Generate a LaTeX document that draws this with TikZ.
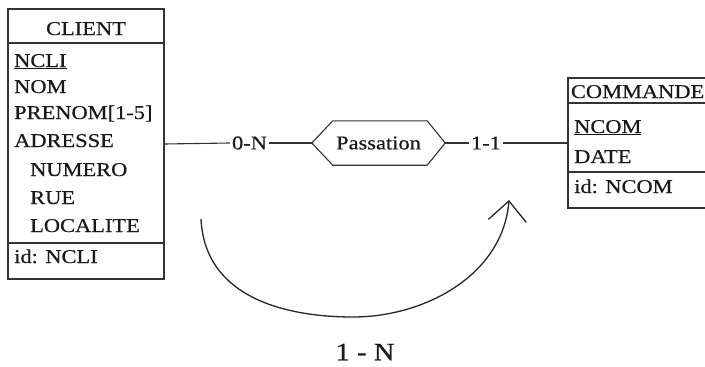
\documentclass[tikz,border=0pt]{standalone}
\usepackage{fontspec}
\setmainfont{Liberation Serif}[FakeStretch=1.15, FakeBold=0.5]
\usetikzlibrary{arrows.meta,calc}
\begin{document}
\begin{tikzpicture}[x=1pt,y=-1pt,
  every node/.style={font=\fontsize{19.5}{23}\selectfont, text=black!90},
  box/.style={draw=black!80, line width=1.1pt, minimum width=#1, inner sep=0pt},
  attr/.style={anchor=base west, inner sep=0pt},
  card/.style={inner sep=2pt},
  conn/.style={draw=black!80, line width=1.1pt},
  arc/.style={draw=black!85, line width=1.3pt, -{Straight Barb[length=20pt,width=38pt]}}]
\useasboundingbox (0,0) rectangle (705,367);
\clip (0,0) rectangle (705,367);
% CLIENT
\node[box=156pt, minimum height=270pt] (client) at (86,144) {};
\draw[conn] (8,43) -- (164,43);
\draw[conn] (8,243) -- (164,243);
\node[anchor=base, inner sep=0pt] (clt) at (86,35) {CLIENT};
\node[attr] (a1) at (14,67) {\underline{NCLI}};
\node[attr] (a2) at (14,93) {NOM};
\node[attr] (a3) at (14,119) {PRENOM[1-5]};
\node[attr] (a4) at (14,147) {ADRESSE};
\node[attr] (a5) at (30,176) {NUMERO};
\node[attr] (a6) at (30,204) {RUE};
\node[attr] (a7) at (30,232) {LOCALITE};
\node[attr] (a8) at (14,263) {id: NCLI};
% COMMANDE
\node[box=160pt, minimum height=130pt] (commande) at (648,143) {};
\draw[conn] (568,103) -- (728,103);
\draw[conn] (568,172) -- (728,172);
\node[anchor=base east, inner sep=0pt] (ct) at (704.5,98) {COMMANDE};
\node[attr] (b1) at (574,133) {\underline{NCOM}};
\node[attr] (b2) at (574,163) {DATE};
\node[attr] (b3) at (574,193) {id: NCOM};
% Passation
\node[inner sep=0pt, minimum width=133pt, minimum height=44pt] (pass) at (378.5,143) {Passation};
\draw[conn] (pass.west) -- ($(pass.north west)+(21,0)$) -- ($(pass.north east)+(-18,0)$)
  -- (pass.east) -- ($(pass.south east)+(-18,0)$) -- ($(pass.south west)+(21,0)$) -- cycle;
% cardinalities
\node[card] (n0) at (249.5,143) {0-N};
\node[card] (n1) at (486,143) {1-1};
\draw[conn] (client.east) -- (n0.west);
\draw[conn] (n0.east) -- (pass.west);
\draw[conn] (pass.east) -- (n1.west);
\draw[conn] (n1.east) -- (commande.west);
% arc
\coordinate (s) at (201,219);
\coordinate (m) at (353,317);
\coordinate (e) at (509,200);
\draw[arc] (s) .. controls (205,300) and (290,317) .. (m) .. controls (425,317) and (503,275) .. (e);
\node[font=\fontsize{25}{28}\selectfont] (lbl) at (365,352) {1 - N};
\end{tikzpicture}
\end{document}
